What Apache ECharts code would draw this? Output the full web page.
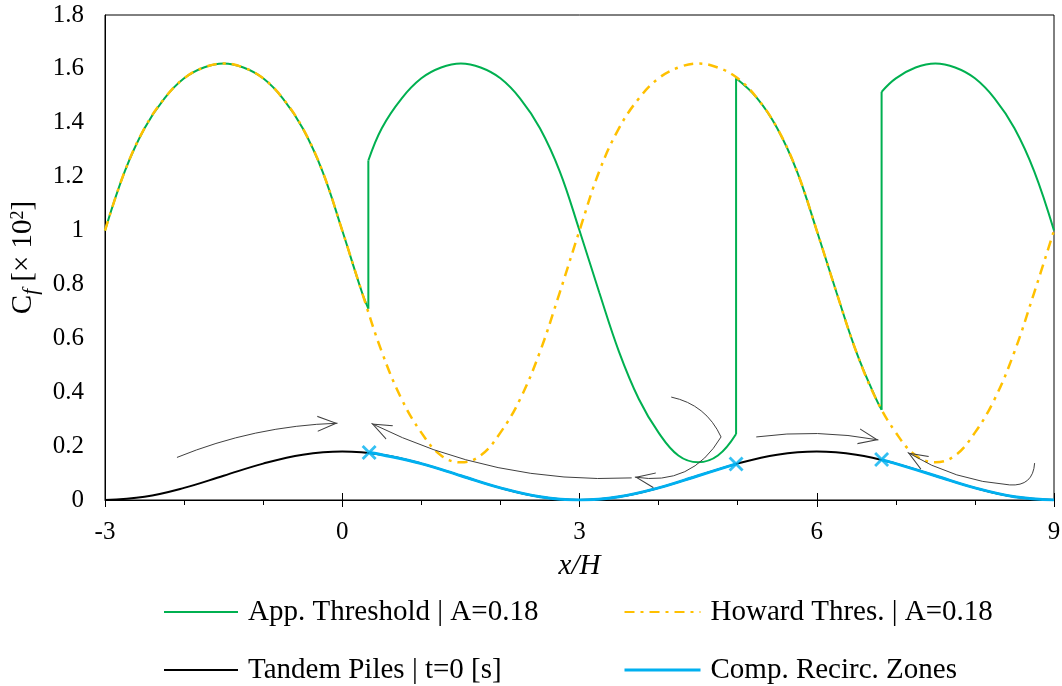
<!DOCTYPE html>
<html>
<head>
<meta charset="utf-8">
<script src="https://cdn.jsdelivr.net/npm/echarts@6/dist/echarts.min.js"></script>
<style>
  html, body { margin: 0; padding: 0; background: #fff; }
  #chart { width: 1062px; height: 686px; }
</style>
</head>
<body>
<div id="chart"></div>
<script>
// values, [x/H, Cf]
const howardThres = [
  [-3, 1.00], [-2.75, 1.22], [-2.5, 1.38], [-2.25, 1.49], [-2, 1.565], [-1.75, 1.605], [-1.5, 1.62],
  [-1.25, 1.605], [-1, 1.565], [-0.75, 1.49], [-0.5, 1.38], [-0.25, 1.22],
  [0, 1.00], [0.25, 0.77], [0.5, 0.55], [0.75, 0.375], [1, 0.25], [1.25, 0.165], [1.5, 0.14],
  [1.75, 0.165], [2, 0.25], [2.25, 0.375], [2.5, 0.55], [2.75, 0.77],
  [3, 1.00], [3.25, 1.22], [3.5, 1.38], [3.75, 1.49], [4, 1.565], [4.25, 1.605], [4.5, 1.62],
  [4.75, 1.605], [5, 1.565], [5.25, 1.49], [5.5, 1.38], [5.75, 1.22],
  [6, 1.00], [6.25, 0.77], [6.5, 0.55], [6.75, 0.375], [7, 0.25], [7.25, 0.165], [7.5, 0.14],
  [7.75, 0.165], [8, 0.25], [8.25, 0.375], [8.5, 0.55], [8.75, 0.77], [9, 1.00]
];

// smooth pieces of the applied threshold, broken at the jumps
const appThreshold = [
  [-3, 1.00], [-2.75, 1.22], [-2.5, 1.38], [-2.25, 1.49], [-2, 1.565], [-1.75, 1.605], [-1.5, 1.62],
  [-1.25, 1.605], [-1, 1.565], [-0.75, 1.49], [-0.5, 1.38], [-0.25, 1.22],
  [0, 1.00], [0.25, 0.77], [0.33, 0.71],
  null,
  [0.33, 1.26], [0.5, 1.38], [0.75, 1.49], [1, 1.565], [1.25, 1.605], [1.5, 1.62],
  [1.75, 1.605], [2, 1.565], [2.25, 1.49], [2.5, 1.38], [2.75, 1.22],
  [3, 1.00], [3.25, 0.77], [3.5, 0.55], [3.75, 0.375], [4, 0.25], [4.25, 0.165], [4.5, 0.14],
  [4.75, 0.165], [4.98, 0.245],
  null,
  [4.98, 1.565], [5.25, 1.49], [5.5, 1.38], [5.75, 1.22],
  [6, 1.00], [6.25, 0.77], [6.5, 0.55], [6.75, 0.375], [6.82, 0.335],
  null,
  [6.82, 1.515], [7, 1.565], [7.25, 1.605], [7.5, 1.62], [7.75, 1.605], [8, 1.565],
  [8.25, 1.49], [8.5, 1.38], [8.75, 1.22], [9, 1.00]
];

// the vertical jumps of the applied threshold
const appJumps = [
  [0.33, 0.71], [0.33, 1.26], null,
  [4.98, 0.245], [4.98, 1.565], null,
  [6.82, 0.335], [6.82, 1.515]
];

const tandemPiles = [
  [-3, 0], [-2.5, 0.012], [-2, 0.045], [-1.5, 0.09], [-1, 0.135], [-0.5, 0.168],
  [0, 0.18], [0.5, 0.168], [1, 0.135], [1.5, 0.09], [2, 0.045], [2.5, 0.012],
  [3, 0], [3.5, 0.012], [4, 0.045], [4.5, 0.09], [5, 0.135], [5.5, 0.168],
  [6, 0.18], [6.5, 0.168], [7, 0.135], [7.5, 0.09], [8, 0.045], [8.5, 0.012], [9, 0]
];

const recircZones = [
  [0.34, 0.176], [0.5, 0.168], [1, 0.135], [1.5, 0.09], [2, 0.045], [2.5, 0.012],
  [3, 0], [3.5, 0.012], [4, 0.045], [4.5, 0.09], [4.98, 0.134],
  null,
  [6.82, 0.15], [7, 0.135], [7.5, 0.09], [8, 0.045], [8.5, 0.012], [9, 0]
];

const recircPoints = [[0.34, 0.176], [4.98, 0.134], [6.82, 0.15]];

// flow arrows: start, end, curveness
const arrows = [
  { from: [-2.09, 0.158], to: [-0.06, 0.285], curve: 0.09, head: true },
  { from: [4.16, 0.382], to: [4.79, 0.234], curve: 0.25, head: false },
  { from: [4.79, 0.234], to: [3.70, 0.085], curve: 0.34, head: true },
  { from: [3.66, 0.082], to: [0.37, 0.284], curve: 0.13, head: true },
  { from: [5.235, 0.234], to: [6.78, 0.223], curve: 0.08, head: true },
  { from: [8.755, 0.137], to: [8.44, 0.056], curve: 0.5, head: false },
  { from: [8.44, 0.056], to: [7.15, 0.176], curve: 0.12, head: true }
];

const FONT = 'Liberation Serif';
const GREEN = '#00b050';
const ORANGE = '#ffc000';
const BLUE = '#00b0f0';
const GREY = '#404040';

// open arrow head, tip at the centre of the box so it sits on the line end
const HEAD = 'path://M0,0L0.01,0ZM40,0L39.99,0ZM12,40L20,20L28,40L26.9,40L20,22.8L13.1,40Z';
const CROSS = 'path://M0,1.6L1.6,0L6,4.4L10.4,0L12,1.6L7.6,6L12,10.4L10.4,12L6,7.6L1.6,12L0,10.4L4.4,6Z';

const legendText = { fontFamily: FONT, fontSize: 29, color: '#000', lineHeight: 30, padding: [0, 0, 0, 5] };

const chart = echarts.init(document.getElementById('chart'));

const option = {
  animation: false,
  backgroundColor: '#fff',
  grid: {
    left: 105, right: 8, top: 15, bottom: 186,
    outerBoundsMode: 'none',
    show: true, borderColor: '#000', borderWidth: 1
  },
  legend: [
    {
      data: [
        { name: 'App. Threshold | A=0.18' },
        { name: 'Tandem Piles | t=0 [s]' }
      ],
      orient: 'vertical', left: 163, top: 597, padding: 0,
      itemWidth: 74, itemHeight: 30, itemGap: 28,
      itemStyle: { opacity: 0 },
      textStyle: legendText
    },
    {
      data: [
        { name: 'Howard Thres. | A=0.18' },
        { name: 'Comp. Recirc. Zones', lineStyle: { width: 3 } }
      ],
      orient: 'vertical', left: 623, top: 597, padding: 0,
      itemWidth: 76, itemHeight: 30, itemGap: 28,
      itemStyle: { opacity: 0 },
      textStyle: legendText
    }
  ],
  xAxis: [
    {
      type: 'value', min: -3, max: 9, interval: 3,
      name: 'x/H', nameLocation: 'middle', nameGap: 52,
      nameTextStyle: { fontFamily: FONT, fontSize: 29, fontStyle: 'italic', color: '#000' },
      axisLine: { onZero: false, lineStyle: { color: '#000', width: 1 } },
      axisTick: { show: true, length: 7, lineStyle: { color: '#000' } },
      minorTick: { show: true, splitNumber: 3, length: 5, lineStyle: { color: '#000' } },
      axisLabel: { fontFamily: FONT, fontSize: 25, color: '#000', margin: 20 },
      splitLine: { show: false }
    },
    {
      // upper half of the major ticks
      type: 'value', min: -3, max: 9, interval: 3,
      position: 'top', offset: -485,
      axisLine: { show: false },
      axisTick: { show: true, length: 7, lineStyle: { color: '#000' } },
      axisLabel: { show: false },
      splitLine: { show: false }
    }
  ],
  yAxis: {
    type: 'value', min: 0, max: 1.8, interval: 0.2,
    name: '{n|C}{s|f}{n| [× 10}{p|2}{n|]}',
    nameLocation: 'middle', nameGap: 58,
    nameTextStyle: {
      fontFamily: FONT, fontSize: 29, color: '#000',
      rich: {
        n: { fontFamily: FONT, fontSize: 29, color: '#000', lineHeight: 36, verticalAlign: 'middle' },
        s: { fontFamily: FONT, fontSize: 21, fontStyle: 'italic', color: '#000', lineHeight: 36, verticalAlign: 'bottom' },
        p: { fontFamily: FONT, fontSize: 18, color: '#000', lineHeight: 36, verticalAlign: 'top', padding: [3, 0, 0, 0] }
      }
    },
    axisLine: { show: true, onZero: false, lineStyle: { color: '#000', width: 1 } },
    axisTick: { show: false },
    axisLabel: { fontFamily: FONT, fontSize: 25, color: '#000', margin: 21 },
    splitLine: { show: false }
  },
  series: [
    {
      name: 'Tandem Piles | t=0 [s]', type: 'line', data: tandemPiles,
      symbol: 'none', smooth: 0.4, z: 2,
      lineStyle: { color: '#000', width: 2 }, itemStyle: { color: '#000' }
    },
    {
      name: 'Comp. Recirc. Zones', type: 'line', data: recircZones,
      symbol: 'none', smooth: 0.4, connectNulls: false, z: 3,
      lineStyle: { color: BLUE, width: 3 }, itemStyle: { color: BLUE }
    },
    {
      name: 'App. Threshold | A=0.18', type: 'line', data: appThreshold,
      symbol: 'none', smooth: 0.4, connectNulls: false, z: 4,
      lineStyle: { color: GREEN, width: 2 }, itemStyle: { color: GREEN }
    },
    {
      name: 'App. Threshold | A=0.18', type: 'line', data: appJumps,
      symbol: 'none', smooth: false, connectNulls: false, z: 4,
      lineStyle: { color: GREEN, width: 2 }, itemStyle: { color: GREEN }
    },
    {
      name: 'Howard Thres. | A=0.18', type: 'line', data: howardThres,
      symbol: 'none', smooth: 0.4, z: 5,
      lineStyle: { color: ORANGE, width: 2.5, type: [10, 6, 3, 6] }, itemStyle: { color: ORANGE }
    },
    {
      name: 'markers', type: 'scatter', data: recircPoints,
      symbol: CROSS, symbolSize: 15, z: 6,
      itemStyle: { color: BLUE }
    },
    {
      name: 'arrows', type: 'lines', coordinateSystem: 'cartesian2d', z: 7,
      symbolSize: 40,
      lineStyle: { color: GREY, width: 1, opacity: 1 },
      data: arrows.map(a => ({
        coords: [a.from, a.to],
        symbol: ['none', a.head ? HEAD : 'none'],
        lineStyle: { curveness: a.curve }
      }))
    }
  ]
};

chart.setOption(option);
</script>
</body>
</html>
